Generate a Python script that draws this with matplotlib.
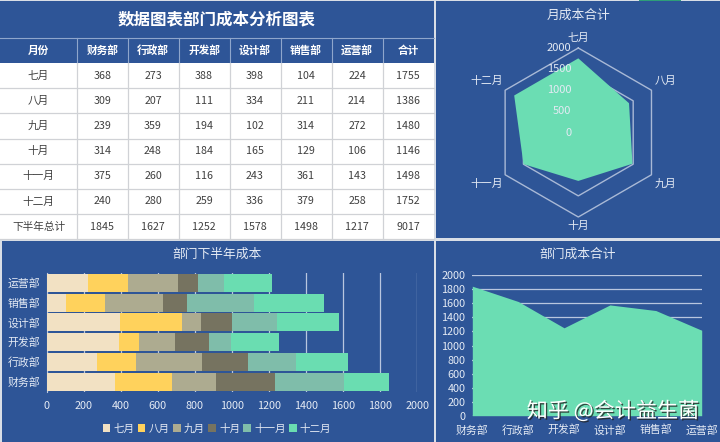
import matplotlib
matplotlib.use("Agg")
import matplotlib.pyplot as plt
import matplotlib.patheffects as pe
from matplotlib.patches import Rectangle
import numpy as np

plt.rcParams['font.family'] = ['Noto Sans CJK SC', 'DejaVu Sans']

months = ['七月', '八月', '九月', '十月', '十一月', '十二月']
depts = ['财务部', '行政部', '开发部', '设计部', '销售部', '运营部']
finance = [368, 309, 239, 314, 375, 240]
admin = [273, 207, 359, 248, 260, 280]
develop = [388, 111, 194, 184, 116, 259]
design = [398, 334, 102, 165, 243, 336]
sales = [104, 211, 314, 129, 361, 379]
ops = [224, 214, 272, 106, 143, 258]
month_totals = [1755, 1386, 1480, 1146, 1498, 1752]
dept_totals = [1845, 1627, 1252, 1578, 1498, 1217]
grand_total = 9017
table_title = '数据图表部门成本分析图表'
first_col = '月份'
total_col = '合计'
total_row = '下半年总计'
month_colors = ['#F2E1C3', '#FFD25C', '#ADAB90', '#767360', '#7FBDAA', '#6ADDB1']
watermark = '知乎 @会计益生菌'

W, H = 720, 442
BLUE = '#2E5597'
FILL = '#6BDDB3'
LIGHT = '#E4EAF4'
fig = plt.figure(figsize=(7.2, 4.42), dpi=100, facecolor='#D9DEE6')


def axes_px(x0, y0, x1, y1, **kw):
    return fig.add_axes([x0 / W, 1 - y1 / H, (x1 - x0) / W, (y1 - y0) / H], **kw)


# page layer in pixel coordinates
bg = axes_px(0, 0, W, H)
bg.set_xlim(0, W)
bg.set_ylim(H, 0)
bg.axis('off')
bg.add_patch(Rectangle((0, 1), 433.5, 62, color=BLUE, lw=0))
bg.add_patch(Rectangle((0, 63), 433.5, 176, color='white', lw=0))
bg.add_patch(Rectangle((436, 1), 284, 237, color=BLUE, lw=0))
bg.add_patch(Rectangle((1.5, 241), 432, 201, color=BLUE, lw=0))
bg.add_patch(Rectangle((436, 241), 284, 201, color=BLUE, lw=0))
bg.add_patch(Rectangle((639, 0), 42, 1.2, color='#2E9E78', lw=0))

col_edges = [0, 77, 127.5, 178.5, 229.5, 280.5, 331.5, 382.5, 433.5]
row_edges = [63, 88.2, 113.4, 138.6, 163.8, 189, 214, 239]
for x in col_edges[1:-1]:
    bg.plot([x, x], [37.5, 63], color='#8FA6CC', lw=0.8)
    bg.plot([x, x], [63, 239], color='#D0D2D6', lw=0.9)
bg.plot([0, 433.5], [37.5, 37.5], color='#8FA6CC', lw=0.8)
for y in row_edges[1:]:
    bg.plot([0, 433.5], [y, y], color='#D0D2D6', lw=0.9)

bg.text(216.5, 19.5, table_title, color='white', fontsize=11.9, fontweight='bold', ha='center', va='center')
headers = [first_col] + depts + [total_col]
centers = [(a + b) / 2 for a, b in zip(col_edges[:-1], col_edges[1:])]
for cx, label in zip(centers, headers):
    bg.text(cx, 50.5, label, color='white', fontsize=7.7, fontweight='bold', ha='center', va='center')

rows = list(zip(months, finance, admin, develop, design, sales, ops, month_totals))
rows.append((total_row, *dept_totals, grand_total))
for i, row in enumerate(rows):
    cy = (row_edges[i] + row_edges[i + 1]) / 2
    for cx, val in zip(centers, row):
        bg.text(cx, cy, str(val), color='#404040', fontsize=7.7, ha='center', va='center')

# radar: monthly totals
rad = axes_px(578.3 - 84.5, 132.5 - 84.5, 578.3 + 84.5, 132.5 + 84.5, projection='polar')
rad.patch.set_alpha(0)
rad.set_theta_zero_location('N')
rad.set_theta_direction(-1)
rad.set_ylim(0, 2000)
rad.axis('off')
theta = np.linspace(0, 2 * np.pi, len(months), endpoint=False)
t_closed = np.append(theta, theta[0])
for ring in (500, 1000, 1500, 2000):
    rad.plot(t_closed, [ring] * len(t_closed), color='#A9B9D6', lw=1.0, clip_on=False)
rad.fill(t_closed, month_totals + month_totals[:1], color=FILL, lw=0, zorder=3)
for v in (0, 500, 1000, 1500, 2000):
    rad.annotate(str(v), (0, v), xytext=(-7, 0), textcoords='offset pixels', color=LIGHT,
                 fontsize=8, ha='right', va='center', zorder=5, annotation_clip=False)
label_offsets = [(0, 10), (3, 9), (3, -9), (0, -9), (-2, -9), (-2, 9)]
label_ha = ['center', 'left', 'left', 'center', 'right', 'right']
for t, m, off, ha in zip(theta, months, label_offsets, label_ha):
    rad.annotate(m, (t, 2000), xytext=off, textcoords='offset pixels', color=LIGHT,
                 fontsize=7.8, ha=ha, va='center', annotation_clip=False, zorder=5)
bg.text(578, 15.5, '月成本合计', color=LIGHT, fontsize=9.2, ha='center', va='center')

# stacked bars: department by month
bar = axes_px(46.7, 273, 417.3, 391.5)
bar.patch.set_alpha(0)
matrix = np.array([finance, admin, develop, design, sales, ops], dtype=float)
ypos = np.arange(len(depts))
left = np.zeros(len(depts))
for j, m in enumerate(months):
    bar.barh(ypos, matrix[:, j], left=left, height=0.9, color=month_colors[j], label=m, zorder=3, lw=0)
    left += matrix[:, j]
bar.set_xlim(0, 2000)
bar.set_ylim(-0.5, 5.5)
bar.set_yticks(ypos, depts)
bar.set_xticks(range(0, 2001, 200))
bar.grid(axis='x', color='#B9C6DF', lw=0.9, zorder=0)
bar.tick_params(axis='x', length=0, colors=LIGHT, labelsize=7.8, pad=6.5)
bar.tick_params(axis='y', length=0, colors=LIGHT, labelsize=7.8, pad=4.5)
for s in bar.spines.values():
    s.set_visible(False)
bar.spines['left'].set_visible(True)
bar.spines['left'].set_color('#B9C6DF')
bar.spines['left'].set_linewidth(0.8)
fig.legend(*bar.get_legend_handles_labels(), loc='center', bbox_to_anchor=(217 / W, 1 - 428.5 / H),
           ncol=6, frameon=False, fontsize=7.6, labelcolor=LIGHT, handlelength=0.72, handleheight=0.72,
           handletextpad=0.3, columnspacing=0.32, borderpad=0, borderaxespad=0)
bg.text(217, 254, '部门下半年成本', color=LIGHT, fontsize=9.2, ha='center', va='center')

# area: department totals
area = axes_px(472.3, 275.3, 701.7, 415.7)
area.patch.set_alpha(0)
xpos = np.arange(len(depts))
area.fill_between(xpos, dept_totals, 0, color=FILL, lw=0, zorder=3)
area.set_xlim(0, 5)
area.set_ylim(0, 2000)
area.set_yticks(range(0, 2001, 200))
area.set_xticks(xpos, depts)
area.grid(axis='y', color='#B9C6DF', lw=0.9, zorder=0)
area.tick_params(axis='y', length=0, colors=LIGHT, labelsize=7.8, pad=5)
area.tick_params(axis='x', length=0, colors=LIGHT, labelsize=7.8, pad=6.5)
for s in area.spines.values():
    s.set_visible(False)
bg.text(577.5, 254, '部门成本合计', color=LIGHT, fontsize=9.2, ha='center', va='center')

fig.text(613 / W, 1 - 411.5 / H, watermark, color='white', fontsize=15.2, ha='center', va='center', zorder=20,
         path_effects=[pe.withSimplePatchShadow(offset=(1, -1), shadow_rgbFace='#222222', alpha=0.8)])

fig.savefig('out.png', dpi=100, facecolor=fig.get_facecolor())
